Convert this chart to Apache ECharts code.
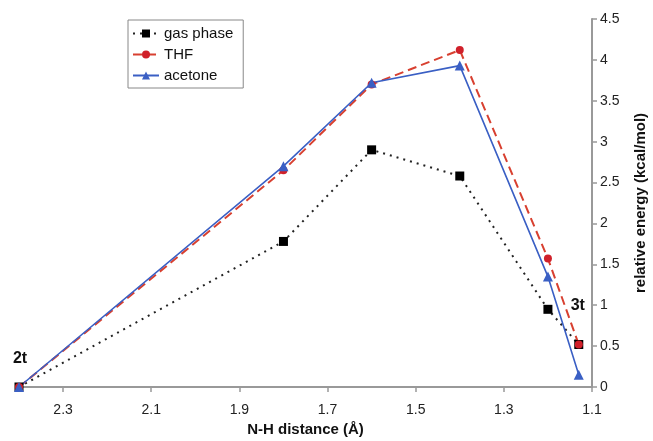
<!DOCTYPE html>
<html>
<head>
<meta charset="utf-8">
<script src="https://cdn.jsdelivr.net/npm/echarts@6/dist/echarts.min.js"></script>
<style>html,body{margin:0;padding:0;background:#fff}#c{width:653px;height:441px}</style>
</head>
<body>
<div id="c"></div>
<script>
const distances = [2.4, 1.8, 1.6, 1.4, 1.2, 1.13];
const gasPhase = [0, 1.78, 2.90, 2.58, 0.95, 0.52];
const thf = [0, 2.65, 3.70, 4.12, 1.57, 0.52];
const acetone = [0, 2.70, 3.72, 3.93, 1.35, 0.15];
const seriesNames = ['gas phase', 'THF', 'acetone'];
const xTickLabels = ['2.3', '2.1', '1.9', '1.7', '1.5', '1.3', '1.1'];
const yTickLabels = ['0', '0.5', '1', '1.5', '2', '2.5', '3', '3.5', '4', '4.5'];
const pointLabels = { start: '2t', end: '3t' };

const pairs = vals => distances.map((d, i) => [d, vals[i]]);
const font = 'Liberation Sans, Arial, sans-serif';

const chart = echarts.init(document.getElementById('c'), null, { renderer: 'canvas' });
const gasData = pairs(gasPhase);
const thfData = pairs(thf).map((p, i) => i === distances.length - 1 ? {
  value: p,
  label: { show: true, formatter: pointLabels.end, position: 'top', offset: [-1, -22], fontSize: 16, fontWeight: 'bold', color: '#111', fontFamily: font }
} : p);
const acetoneData = pairs(acetone).map((p, i) => i === 0 ? {
  value: p,
  label: { show: true, formatter: pointLabels.start, position: 'top', offset: [1, -10], fontSize: 16, fontWeight: 'bold', color: '#111', fontFamily: font }
} : p);

chart.setOption({
  animation: false,
  backgroundColor: '#fff',
  grid: { left: 19, right: 61, top: 19, bottom: 54, containLabel: false, outerBoundsMode: 'none' },
  legend: {
    left: 128, top: 20, orient: 'vertical',
    data: seriesNames,
    borderColor: '#888', borderWidth: 1, padding: [6, 10, 5, 4],
    itemGap: 6, itemWidth: 26, itemHeight: 10,
    textStyle: { fontSize: 15, color: '#111', fontFamily: font }
  },
  xAxis: {
    type: 'value', inverse: true, min: 1.1, max: 2.4, interval: 0.2,
    name: 'N-H distance (Å)', nameLocation: 'middle', nameGap: 35,
    nameTextStyle: { fontSize: 15, fontWeight: 'bold', color: '#111', fontFamily: font },
    axisLine: { lineStyle: { color: '#999', width: 2 } },
    axisTick: { show: true, length: 5, lineStyle: { color: '#999', width: 1.5 } },
    axisLabel: {
      showMaxLabel: false, margin: 16, fontSize: 14, color: '#222', fontFamily: font,
      formatter: v => { const s = v.toFixed(1); return xTickLabels.includes(s) ? s : ''; }
    },
    splitLine: { show: false }
  },
  yAxis: {
    type: 'value', position: 'right', min: 0, max: 4.5, interval: 0.5,
    name: 'relative energy (kcal/mol)', nameLocation: 'middle', nameGap: 41, nameRotate: 90,
    nameTextStyle: { fontSize: 15, fontWeight: 'bold', color: '#111', fontFamily: font },
    axisLine: { show: true, lineStyle: { color: '#999', width: 2 } },
    axisTick: { show: true, length: 5, lineStyle: { color: '#999', width: 1.5 } },
    axisLabel: {
      margin: 8, fontSize: 14, color: '#222', fontFamily: font,
      formatter: v => { const s = String(Math.round(v * 10) / 10); return yTickLabels.includes(s) ? s : ''; }
    },
    splitLine: { show: false }
  },
  series: [
    {
      name: seriesNames[0], type: 'line', data: gasData,
      symbol: 'rect', symbolSize: 9,
      itemStyle: { color: '#000' },
      lineStyle: { color: '#222', width: 2, type: [2, 5] }
    },
    {
      name: seriesNames[1], type: 'line', data: thfData,
      symbol: 'circle', symbolSize: 8,
      itemStyle: { color: '#d0202a' },
      lineStyle: { color: '#d84030', width: 2, type: [9, 5] }
    },
    {
      name: seriesNames[2], type: 'line', data: acetoneData,
      symbol: 'triangle', symbolSize: 10,
      itemStyle: { color: '#3a5fc4' },
      lineStyle: { color: '#3a5fc4', width: 1.6 }
    }
  ]
});
</script>
</body>
</html>
